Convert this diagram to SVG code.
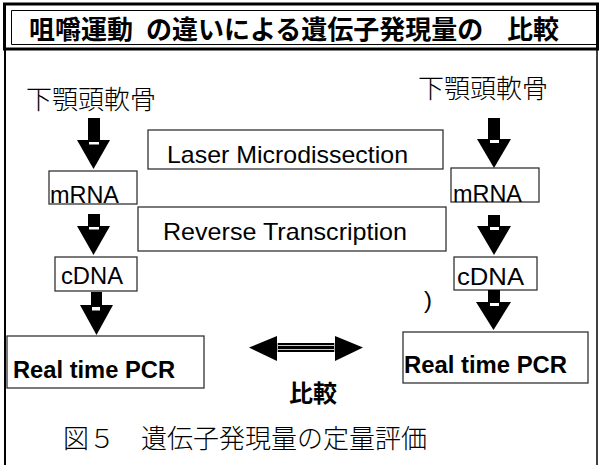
<svg xmlns="http://www.w3.org/2000/svg" width="602" height="465" viewBox="0 0 602 465">
<style>
.bg{fill:#fff}
.frame{fill:none;stroke:#000}
.box{fill:#fff;stroke:#333;stroke-width:1.3}
.lat{font-family:"Liberation Sans",Arial,sans-serif;font-size:24px;fill:#000}
.latb{font-family:"Liberation Sans",Arial,sans-serif;font-size:23px;font-weight:bold;fill:#000}
.jp{font-family:"Noto Sans CJK JP",sans-serif;font-size:26px;font-weight:300;fill:#000}
.jpb{font-family:"Noto Sans CJK JP",sans-serif;font-weight:bold;fill:#000}
.cap{font-family:"Liberation Serif","Noto Sans CJK JP",serif;font-size:26px;font-weight:300;fill:#000}
.arr{fill:#000}
.notch{fill:#fff}
</style>
<rect class="bg" x="0" y="0" width="602" height="465"/>
<g id="frame">
  <rect class="frame" x="4.5" y="4" width="593" height="45" stroke-width="3"/>
  <path class="frame" d="M598,10.5 H11.5 V44.5 H598" stroke-width="1"/>
  <line class="frame" x1="5" y1="49" x2="5" y2="465" stroke-width="2"/>
  <line class="frame" x1="597" y1="49" x2="597" y2="465" stroke-width="1.5"/>
</g>
<g id="title">
  <text class="jpb" font-size="26" y="39"><tspan x="29">咀嚼運動</tspan><tspan x="146">の違いによる遺伝子発現量の</tspan><tspan x="507">比較</tspan></text>
</g>
<g id="cartilage-left"><text class="jp" x="26" y="109">下顎頭軟骨</text></g>
<g id="cartilage-right"><text class="jp" x="418" y="98">下顎頭軟骨</text></g>
<g id="laser">
  <rect class="box" x="148" y="130" width="295" height="39"/>
  <text class="lat" x="167" y="163" textLength="241" lengthAdjust="spacingAndGlyphs">Laser Microdissection</text>
</g>
<g id="reverse">
  <rect class="box" x="138" y="207" width="308" height="44"/>
  <text class="lat" x="163" y="240" textLength="244" lengthAdjust="spacingAndGlyphs">Reverse Transcription</text>
</g>
<g id="mrna-left">
  <rect class="box" x="49" y="171" width="88" height="33"/>
  <text class="lat" x="50" y="203" textLength="69" lengthAdjust="spacingAndGlyphs">mRNA</text>
</g>
<g id="cdna-left">
  <rect class="box" x="55" y="257" width="82" height="34"/>
  <text class="lat" x="61" y="284" textLength="62" lengthAdjust="spacingAndGlyphs">cDNA</text>
</g>
<g id="mrna-right">
  <rect class="box" x="451" y="168" width="88" height="34"/>
  <text class="lat" x="453" y="202" textLength="69" lengthAdjust="spacingAndGlyphs">mRNA</text>
</g>
<g id="cdna-right">
  <rect class="box" x="454" y="257" width="83" height="33"/>
  <text class="lat" x="457" y="285" textLength="67" lengthAdjust="spacingAndGlyphs">cDNA</text>
</g>
<g id="pcr-left">
  <rect class="box" x="7" y="336" width="197" height="52"/>
  <text class="latb" x="13" y="378" textLength="162" lengthAdjust="spacingAndGlyphs">Real time PCR</text>
</g>
<g id="pcr-right">
  <rect class="box" x="403" y="332" width="185" height="51"/>
  <text class="latb" x="404" y="373" textLength="163" lengthAdjust="spacingAndGlyphs">Real time PCR</text>
</g>
<g id="paren"><text class="lat" x="424" y="308">)</text></g>
<g id="connectors">
  <g id="arrow-l1">
    <rect class="arr" x="88" y="118" width="12" height="26"/>
    <polygon class="arr" points="77,140 110,140 93.5,169"/>
    <rect class="notch" x="89" y="142" width="10" height="2.5"/>
  </g>
  <g id="arrow-l2">
    <rect class="arr" x="88" y="214" width="12" height="16"/>
    <polygon class="arr" points="77,226 110,226 93.5,255"/>
    <rect class="notch" x="89" y="227" width="10" height="2.5"/>
  </g>
  <g id="arrow-l3">
    <rect class="arr" x="91" y="292" width="11" height="19"/>
    <polygon class="arr" points="80,305 113,305 96.5,335"/>
    <rect class="notch" x="92" y="307" width="8" height="3.5"/>
  </g>
  <g id="arrow-r1">
    <rect class="arr" x="488" y="118" width="12" height="26"/>
    <polygon class="arr" points="477,139 511,139 494,168"/>
    <rect class="notch" x="490" y="140" width="9" height="3"/>
  </g>
  <g id="arrow-r2">
    <rect class="arr" x="488" y="215" width="12" height="16"/>
    <polygon class="arr" points="477,226 511,226 494,255"/>
    <rect class="notch" x="490" y="227" width="9" height="3"/>
  </g>
  <g id="arrow-r3">
    <rect class="arr" x="488" y="290" width="12" height="17"/>
    <polygon class="arr" points="476,302 511,302 493.5,330"/>
    <rect class="notch" x="490" y="303" width="9" height="3"/>
  </g>
  <g id="arrow-compare">
    <polygon class="arr" points="249,347.5 277,336 277,361"/>
    <polygon class="arr" points="363,347.5 335,336 335,361"/>
    <rect class="arr" x="276" y="343" width="60" height="9"/>
    <line x1="278" y1="345.5" x2="334" y2="345.5" stroke="#fff" stroke-width="0.8"/>
    <line x1="278" y1="349.5" x2="334" y2="349.5" stroke="#fff" stroke-width="0.8"/>
    <line x1="277.5" y1="343" x2="277.5" y2="352" stroke="#fff" stroke-width="0.7"/>
    <line x1="334.5" y1="343" x2="334.5" y2="352" stroke="#fff" stroke-width="0.7"/>
  </g>
</g>
<g id="compare-label"><text class="jpb" font-size="24" x="289" y="402">比較</text></g>
<g id="caption"><text class="cap" x="63" y="448">図５　遺伝子発現量の定量評価</text></g>
</svg>
